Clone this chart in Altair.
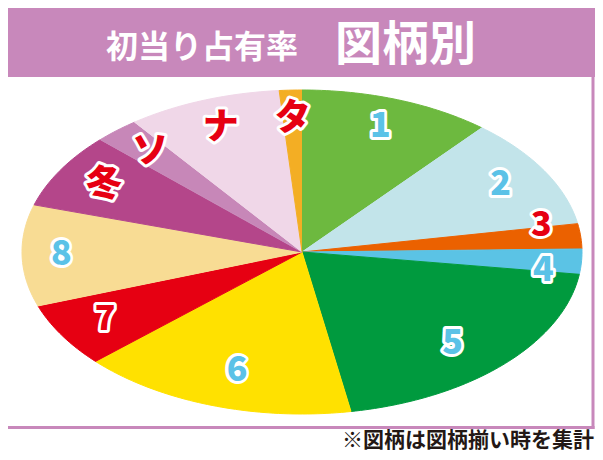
import numpy as np
import pandas as pd
import altair as alt

# ---- data ----
names = ["1", "2", "3", "4", "5", "6", "7", "8", "冬", "ソ", "ナ", "タ"]
shares = [11.1, 11.1, 2.5, 2.5, 20.0, 16.0, 6.4, 10.1, 7.5, 2.6, 8.9, 1.3]
slice_colors = ["#6DB93F", "#C2E4EA", "#EB6100", "#5BC3E5", "#009A3E", "#FFE100",
                "#E60012", "#F8DC94", "#B4468A", "#C787B8", "#F0D7E8", "#F3AE24"]
label_colors = ["#5BC2E7", "#5BC2E7", "#E60012", "#5BC2E7", "#5BC2E7", "#5BC2E7",
                "#E60012", "#5BC2E7", "#E60012", "#E60012", "#E60012", "#E60012"]
title_main = "初当り占有率"
title_sub = "図柄別"
footnote = "※図柄は図柄揃い時を集計"

# label placement tweaks (degrees offset, radius fraction)
label_tweak = {"3": (-5.0, 0.87), "4": (4.5, 0.87), "5": (2.5, 0.78),
               "6": (-1.2, 0.77), "8": (0.0, 0.86)}

# ---- build wedge outlines from the shares ----
total = float(sum(shares))
rows, labels = [], []
start = 0.0
for name, s, lc in zip(names, shares, label_colors):
    a0 = start / total * 2 * np.pi
    a1 = (start + s) / total * 2 * np.pi
    steps = max(2, int(np.ceil((a1 - a0) / np.radians(1.0))))
    rows.append({"name": name, "i": 0, "ux": 0.0, "uy": 0.0})
    for j in range(steps + 1):
        a = a0 + (a1 - a0) * j / steps
        rows.append({"name": name, "i": j + 1, "ux": np.sin(a), "uy": np.cos(a)})
    d_ang, rad = label_tweak.get(name, (0.0, 0.82))
    mid = (a0 + a1) / 2 + np.radians(d_ang)
    labels.append({"name": name, "lx": rad * np.sin(mid), "ly": rad * np.cos(mid),
                   "lc": lc, "fs": 34 if name.isdigit() else 36})
    start += s

wedges = pd.DataFrame(rows)
lab = pd.DataFrame(labels)

xs = alt.Scale(domain=[-1, 1], range=[14, 574])
ys = alt.Scale(domain=[-1, 1], range=[406, 82])
cscale = alt.Scale(domain=names, range=slice_colors)

W, H = 587, 444
one = pd.DataFrame({"k": [0]})
PURPLE = "#C888BB"

banner = alt.Chart(one).mark_rect(color=PURPLE).encode(
    x=alt.value(0), x2=alt.value(W), y=alt.value(0), y2=alt.value(69))
right_border = alt.Chart(one).mark_rect(color=PURPLE).encode(
    x=alt.value(583.5), x2=alt.value(586.5), y=alt.value(60), y2=alt.value(421))
bottom_border = alt.Chart(one).mark_rect(color=PURPLE).encode(
    x=alt.value(0), x2=alt.value(586.5), y=alt.value(418), y2=alt.value(421))

t1 = alt.Chart(one).mark_text(text=title_main, font="Noto Sans CJK JP", fontWeight="bold",
                              fontSize=32, color="white", align="center",
                              baseline="alphabetic").encode(
    x=alt.value(194), y=alt.value(50))
t2 = alt.Chart(one).mark_text(text=title_sub, font="Noto Sans CJK JP", fontWeight="bold",
                              fontSize=47, color="white", align="center",
                              baseline="alphabetic").encode(
    x=alt.value(397.5), y=alt.value(51.5))
foot = alt.Chart(one).mark_text(text=footnote, font="Noto Sans CJK JP", fontWeight="bold",
                                fontSize=21, color="#231815", align="right",
                                baseline="alphabetic").encode(
    x=alt.value(586), y=alt.value(438.5))

pie = alt.Chart(wedges).mark_line(strokeWidth=1, interpolate="linear").encode(
    x=alt.X("ux:Q", scale=xs, axis=None),
    y=alt.Y("uy:Q", scale=ys, axis=None),
    detail="name:N",
    order="i:Q",
    fill=alt.Fill("name:N", scale=cscale, legend=None),
    stroke=alt.Stroke("name:N", scale=cscale, legend=None),
)

lab_base = alt.Chart(lab).encode(
    x=alt.X("lx:Q", scale=xs, axis=None),
    y=alt.Y("ly:Q", scale=ys, axis=None),
    text="name:N",
    size=alt.Size("fs:Q", scale=None, legend=None),
)
lab_outline = lab_base.mark_text(font="Noto Sans CJK JP", fontWeight=900, align="center",
                                 baseline="middle", fill="white", stroke="white",
                                 strokeWidth=6, strokeJoin="round")
lab_fill = lab_base.mark_text(font="Noto Sans CJK JP", fontWeight=900, align="center",
                              baseline="middle").encode(
    color=alt.Color("lc:N", scale=None, legend=None))

chart = alt.layer(banner, right_border, bottom_border, t1, t2, foot,
                  pie, lab_outline, lab_fill).properties(
    width=W, height=H, padding=0, autosize="none", background="white"
).configure_view(strokeWidth=0)

chart.save("out.html", embed_options={"renderer": "svg", "actions": False})
